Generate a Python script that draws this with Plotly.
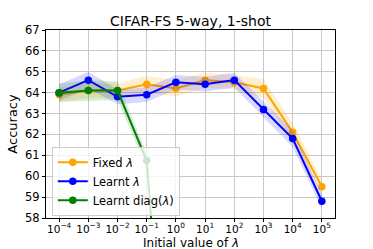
import plotly.graph_objects as go

lam = [1e-4, 1e-3, 1e-2, 1e-1, 1e0, 1e1, 1e2, 1e3, 1e4, 1e5]
fixed_mean = [63.9, 64.1, 64.1, 64.4, 64.2, 64.6, 64.5, 64.2, 62.1, 59.5]
fixed_std = [0.35, 0.35, 0.35, 0.4, 0.4, 0.35, 0.35, 0.45, 0.45, 0.35]
learnt_mean = [64.0, 64.6, 63.8, 63.9, 64.5, 64.4, 64.6, 63.2, 61.8, 58.8]
learnt_std = [0.4, 0.4, 0.35, 0.35, 0.35, 0.35, 0.35, 0.35, 0.4, 0.35]
diag_lam = [1e-4, 1e-3, 1e-2, 1e-1, 1e0]
diag_mean = [64.0, 64.1, 64.1, 60.75, 42.4]
diag_std = [0.45, 0.5, 0.45, 0.35, 0.5]

tick_vals = [1e-4, 1e-3, 1e-2, 1e-1, 1e0, 1e1, 1e2, 1e3, 1e4, 1e5]
tick_text = ["10<sup>−4</sup>", "10<sup>−3</sup>", "10<sup>−2</sup>", "10<sup>−1</sup>",
             "10<sup>0</sup>", "10<sup>1</sup>", "10<sup>2</sup>", "10<sup>3</sup>",
             "10<sup>4</sup>", "10<sup>5</sup>"]
y_ticks = [58, 59, 60, 61, 62, 63, 64, 65, 66, 67]

series = [
    ("Fixed <i>λ</i>", lam, fixed_mean, fixed_std, "orange", "rgba(255,165,0,0.18)"),
    ("Learnt <i>λ</i>", lam, learnt_mean, learnt_std, "blue", "rgba(0,0,255,0.15)"),
    ("Learnt diag(<i>λ</i>)", diag_lam, diag_mean, diag_std, "green", "rgba(0,128,0,0.15)"),
]

fig = go.Figure()
for name, xs, m, s, col, fcol in series:
    upper = [a + b for a, b in zip(m, s)]
    lower = [a - b for a, b in zip(m, s)]
    fig.add_trace(go.Scatter(x=list(xs) + list(xs)[::-1], y=upper + lower[::-1],
                             fill="toself", fillcolor=fcol, line=dict(width=0),
                             mode="lines", showlegend=False, hoverinfo="skip"))
    fig.add_trace(go.Scatter(x=xs, y=m, mode="lines+markers", name=name,
                             line=dict(color=col, width=2),
                             marker=dict(color=col, size=7.5)))

fig.update_layout(
    width=373, height=249,
    margin=dict(l=46, r=38, t=30, b=31, pad=0),
    plot_bgcolor="white", paper_bgcolor="white",
    font=dict(family="DejaVu Sans", size=11, color="black"),
    title=dict(text="CIFAR-FS 5-way, 1-shot", x=0.5, xref="paper", xanchor="center",
               y=1, yref="paper", yanchor="bottom", pad=dict(b=4),
               font=dict(size=14)),
    xaxis=dict(type="log", range=[-4.45, 5.45], tickvals=tick_vals, ticktext=tick_text,
               automargin=False, ticklabelstandoff=-2,
               showgrid=True, gridcolor="#c8c8c8", gridwidth=1.2,
               showline=True, linecolor="black", linewidth=1, mirror=True,
               ticks="outside", ticklen=3, tickcolor="black", tickfont=dict(size=10.5)),
    yaxis=dict(range=[58, 67], tickvals=y_ticks, automargin=False,
               showgrid=True, gridcolor="#c8c8c8", gridwidth=1.2,
               showline=True, linecolor="black", linewidth=1, mirror=True,
               ticks="outside", ticklen=3, tickcolor="black", zeroline=False,
               tickfont=dict(size=11.5),
               title=dict(text="Accuracy", font=dict(size=13), standoff=4)),
    legend=dict(x=0.02, y=0.012, xanchor="left", yanchor="bottom",
                bgcolor="rgba(255,255,255,0.8)", bordercolor="#cccccc", borderwidth=1,
                font=dict(size=11.5), tracegroupgap=0, itemwidth=30),
    showlegend=True,
    annotations=[dict(text="Initial value of <i>λ</i>", x=0.5, xref="paper",
                      y=-0.133, yref="paper", xanchor="center", yanchor="middle",
                      showarrow=False, font=dict(size=12))],
)

fig.write_html("out.html", config={"displayModeBar": False},
               post_script="document.body.style.margin='0';")
